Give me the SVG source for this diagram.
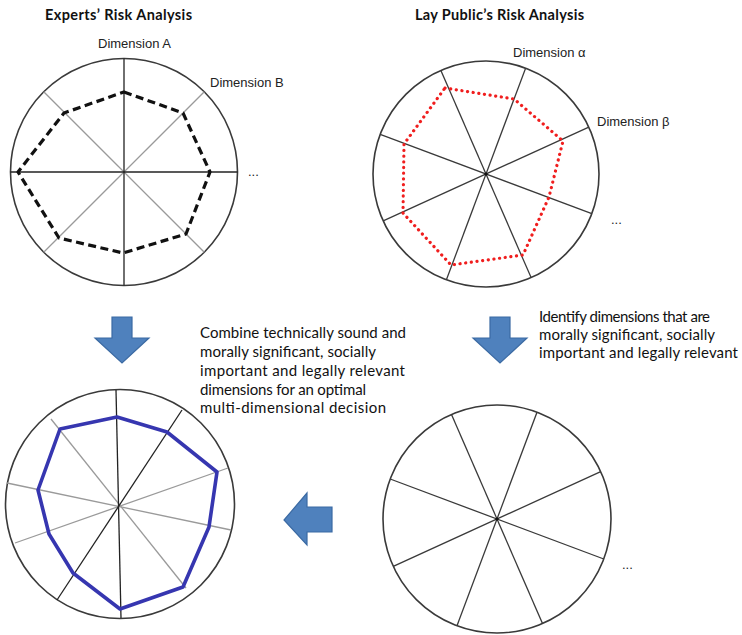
<svg xmlns="http://www.w3.org/2000/svg" width="742" height="635" viewBox="0 0 742 635">
<style>
.title{font-family:"Lato","Liberation Sans",sans-serif;font-weight:bold;font-size:14.5px;fill:#111}
.body{font-family:"Lato","Liberation Sans",sans-serif;font-size:15px;fill:#111}
.dim{font-family:"Liberation Sans",Arial,sans-serif;font-size:13px;fill:#222}
.rim{fill:#fff;stroke:#3a3a3a;stroke-width:1.6}
.spk{stroke:#3a3a3a;stroke-width:1.3;fill:none}
.spkb{stroke:#222;stroke-width:1.3;fill:none}
.spkg{stroke:#9a9a9a;stroke-width:1.3;fill:none}
.arrow{fill:#4f81bd;stroke:#3b6aa3;stroke-width:1.2}
</style>
<rect width="742" height="635" fill="#fff"/>

<g id="experts">
<text class="title" x="45" y="20" textLength="147">Experts’ Risk Analysis</text>
<circle class="rim" cx="124" cy="172" r="113.5"/>
<line class="spkg" x1="43.7" y1="91.7" x2="204.3" y2="252.3"/>
<line class="spkg" x1="204.3" y1="91.7" x2="43.7" y2="252.3"/>
<line class="spkb" x1="124" y1="58.5" x2="124" y2="285.5"/>
<line class="spkb" x1="10.5" y1="172" x2="237.5" y2="172"/>
<polygon points="124,92 183,113 210,172 186,234 123,253 59,238 18,172 64,113" fill="none" stroke="#111" stroke-width="3.2" stroke-dasharray="8,4.5" stroke-linejoin="round"/>
<text class="dim" x="98" y="48">Dimension  A</text>
<text class="dim" x="210" y="87">Dimension  B</text>
<text class="dim" x="248" y="176">...</text>
</g>

<g id="laypublic">
<text class="title" x="415" y="20" textLength="169">Lay Public’s Risk Analysis</text>
<circle class="rim" cx="486" cy="174" r="113"/>
<line class="spk" x1="440.9" y1="70.4" x2="531.1" y2="277.6"/>
<line class="spk" x1="525.6" y1="68.2" x2="446.4" y2="279.8"/>
<line class="spk" x1="588.8" y1="127.1" x2="383.2" y2="220.9"/>
<line class="spk" x1="591.8" y1="213.6" x2="380.2" y2="134.4"/>
<circle cx="486" cy="174" r="1.6" fill="#111"/>
<polygon points="445,88 514,99 563,141 549,197 523,255 451,265 403,213 404,144" fill="none" stroke="#f01e1e" stroke-width="3.2" stroke-dasharray="0.1,5.6" stroke-linecap="round"/>
<text class="dim" x="513" y="57">Dimension  α</text>
<text class="dim" x="597" y="126">Dimension  β</text>
<text class="dim" x="611" y="224">...</text>
</g>

<g id="combined">
<circle class="rim" cx="120" cy="504" r="114.5"/>
<line class="spkg" x1="51" y1="419" x2="186" y2="588"/>
<line class="spkg" x1="7" y1="483" x2="231" y2="530"/>
<line class="spkg" x1="15" y1="543" x2="228" y2="468"/>
<line class="spkb" x1="116" y1="390" x2="121" y2="618"/>
<line class="spkb" x1="182" y1="410" x2="57" y2="600"/>
<polygon points="117,417 167,432 217,472 209,527 183,587 120,609 73,573 49,534 38,490 60,429" fill="none" stroke="#3636b0" stroke-width="3.6" stroke-linejoin="round"/>
</g>

<g id="identified">
<circle class="rim" cx="497" cy="519" r="114"/>
<line class="spk" x1="451.5" y1="414.5" x2="542.5" y2="623.5"/>
<line class="spk" x1="537" y1="412.2" x2="457" y2="625.8"/>
<line class="spk" x1="600.7" y1="471.7" x2="393.3" y2="566.3"/>
<line class="spk" x1="603.8" y1="559" x2="390.2" y2="479"/>
<circle cx="497" cy="519" r="1.6" fill="#111"/>
<text class="dim" x="622" y="569">...</text>
</g>

<g id="combine-text">
<text class="body" x="200" y="338" textLength="206">Combine technically sound and</text>
<text class="body" x="200" y="357" textLength="176">morally significant, socially</text>
<text class="body" x="200" y="376" textLength="205">important and legally relevant</text>
<text class="body" x="200" y="395" textLength="166">dimensions for an optimal</text>
<text class="body" x="200" y="413" textLength="186">multi-dimensional decision</text>
</g>

<g id="identify-text">
<text class="body" x="539" y="322" textLength="171">Identify dimensions that are</text>
<text class="body" x="539" y="340" textLength="176">morally significant, socially</text>
<text class="body" x="539" y="358" textLength="199">important and legally relevant</text>
</g>

<g id="connectors">
<polygon class="arrow" points="112,317 132,317 132,338 149,338 122,363 95,338 112,338"/>
<polygon class="arrow" points="490,317 510,317 510,338 527,338 500,363 473,338 490,338"/>
<polygon class="arrow" points="332,507 332,532 307,532 307,545 284,520 307,493 307,507"/>
</g>
</svg>
